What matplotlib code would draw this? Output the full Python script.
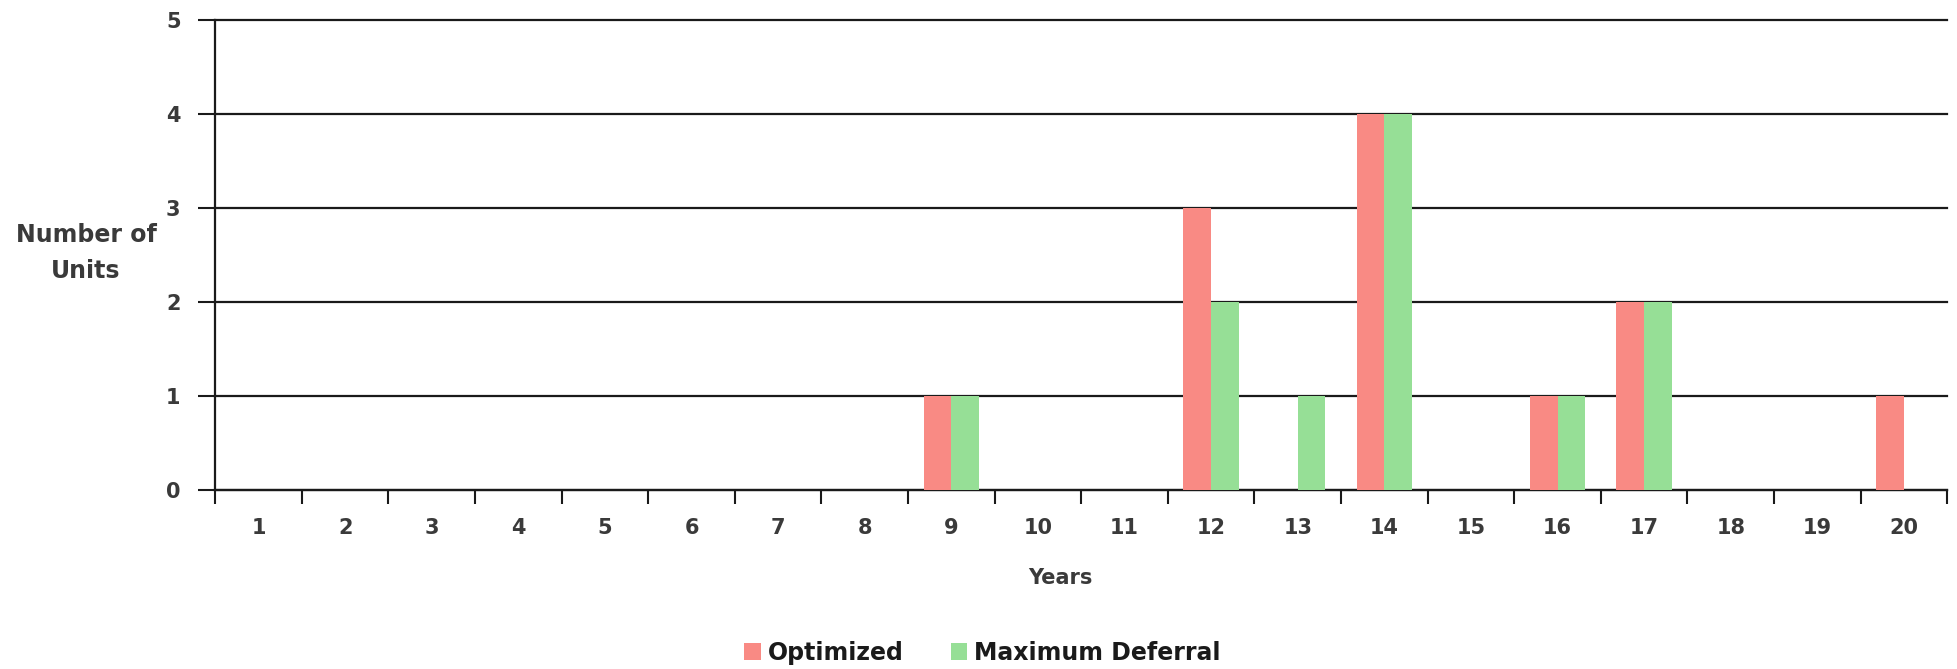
import matplotlib.pyplot as plt
import numpy as np

plt.rcParams['font.family'] = ['DejaVu Sans']

years = [str(y) for y in range(1, 21)]
optimized = [0, 0, 0, 0, 0, 0, 0, 0, 1, 0, 0, 3, 0, 4, 0, 1, 2, 0, 0, 1]
max_deferral = [0, 0, 0, 0, 0, 0, 0, 0, 1, 0, 0, 2, 1, 4, 0, 1, 2, 0, 0, 0]

red = '#F98A84'
green = '#96DF96'
text_col = '#3a3a3a'

fig = plt.figure(figsize=(19.57, 6.69), dpi=100)
ax = fig.add_axes([0.11, 0.2676, 0.885, 0.7024])

x = np.arange(len(years)) + 0.5
w = 0.32
ax.bar(x - w / 2, optimized, w, color=red, zorder=3, label='Optimized')
ax.bar(x + w / 2, max_deferral, w, color=green, zorder=3, label='Maximum Deferral')

ax.set_xlim(0, 20)
ax.set_ylim(0, 5)
ax.set_yticks(range(6))
ax.yaxis.grid(True, color='#1a1a1a', linewidth=1.6, zorder=1, clip_on=False)
ax.set_axisbelow(True)

# category labels sit between the boundary ticks
ax.set_xticks(np.arange(0, 21), minor=False)
ax.set_xticklabels([])
ax.set_xticks(x, minor=True)
ax.set_xticklabels(years, minor=True)
ax.tick_params(axis='x', which='major', length=10, width=1.5, color='#1a1a1a')
ax.tick_params(axis='x', which='minor', length=0, pad=20, labelsize=15,
               labelcolor=text_col)
ax.tick_params(axis='y', length=12, width=1.5, color='#1a1a1a', pad=13,
               labelsize=15, labelcolor=text_col)
for lab in ax.get_xticklabels(minor=True) + ax.get_yticklabels():
    lab.set_fontweight('bold')

for s in ['top', 'right']:
    ax.spines[s].set_visible(False)
ax.spines['left'].set_linewidth(1.6)
ax.spines['bottom'].set_linewidth(1.6)
ax.spines['left'].set_color('#1a1a1a')
ax.spines['bottom'].set_color('#1a1a1a')

fig.text(0.044, 0.622, 'Number of\nUnits', ha='center', va='center',
         fontsize=17, fontweight='bold', color=text_col, linespacing=1.6)
fig.text(0.542, 0.136, 'Years', ha='center', va='center',
         fontsize=15, fontweight='bold', color=text_col)

fig.legend(loc='center', bbox_to_anchor=(0.502, 0.024), ncol=2, frameon=False,
           prop={'size': 17, 'weight': 'bold'}, handlelength=0.7,
           handleheight=0.7, handletextpad=0.3, columnspacing=2.0,
           labelcolor='#1a1a1a')

fig.savefig('out.png', dpi=100)
